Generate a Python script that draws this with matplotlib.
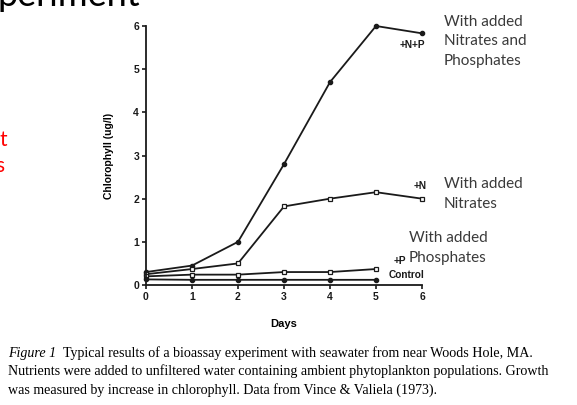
import numpy as np
import matplotlib
matplotlib.use("Agg")
from matplotlib import pyplot as plt

# values
days = [0, 1, 2, 3, 4, 5, 6]
days_short = [0, 1, 2, 3, 4, 5]
chl_np = [0.30, 0.45, 1.00, 2.80, 4.70, 6.00, 5.83]
chl_n = [0.25, 0.37, 0.50, 1.82, 2.00, 2.15, 2.00]
chl_p = [0.20, 0.24, 0.24, 0.30, 0.30, 0.37]
chl_ctrl = [0.13, 0.12, 0.12, 0.12, 0.12, 0.12]

y_ticks = [0, 1, 2, 3, 4, 5, 6]
x_ticks = [0, 1, 2, 3, 4, 5, 6]

caption_1 = "Typical results of a bioassay experiment with seawater from near Woods Hole, MA."
caption_2 = "Nutrients were added to unfiltered water containing ambient phytoplankton populations. Growth"
caption_3 = "was measured by increase in chlorophyll. Data from Vince & Valiela (1973)."

W, H = 577, 405
fig = plt.figure(figsize=(W / 100, H / 100), dpi=100)
fig.patch.set_facecolor("white")

def fx(px):
    return px / W

def fy(py):
    return 1 - py / H

# axes box in pixels: x 0..6 -> 146..422, y 0..6 -> 285..26
ax = fig.add_axes([fx(146), fy(285), fx(422) - fx(146), fy(26) - fy(285)])
ax.set_xlim(0, 6)
ax.set_ylim(0, 6)

lw = 1.3
ink = "#1a1a1a"
ax.plot(days, chl_np, color=ink, lw=lw, marker="o", ms=3, mfc=ink, mec=ink, clip_on=False)
ax.plot(days, chl_n, color=ink, lw=lw, marker="s", ms=3.5, mfc="white", mec=ink, mew=0.9, clip_on=False)
ax.plot(days_short, chl_p, color=ink, lw=lw, marker="s", ms=3.5, mfc="white", mec=ink, mew=0.9, clip_on=False)
ax.plot(days_short, chl_ctrl, color=ink, lw=lw, marker="o", ms=3, mfc=ink, mec=ink, clip_on=False)

for s in ["top", "right"]:
    ax.spines[s].set_visible(False)
for s in ["left", "bottom"]:
    ax.spines[s].set_linewidth(1.3)
    ax.spines[s].set_color(ink)

ax.set_xticks(x_ticks)
ax.set_yticks(y_ticks)
ax.tick_params(length=3, width=1.2, colors=ink, labelsize=7.5, pad=2)
for lab in ax.get_xticklabels() + ax.get_yticklabels():
    lab.set_fontweight("bold")
    lab.set_family("Liberation Sans")

ax.set_xlabel("Days", fontsize=8, fontweight="bold", family="Liberation Sans", labelpad=12)
ax.set_ylabel("Chlorophyll (ug/l)", fontsize=7.5, fontweight="bold", family="Liberation Sans", labelpad=14)

# series labels inside the scanned figure
lab_kw = dict(fontsize=7.3, fontweight="bold", family="Liberation Sans", color=ink)
fig.text(fx(425), fy(45), "+N+P", ha="right", va="center", **lab_kw)
fig.text(fx(427), fy(186), "+N", ha="right", va="center", **lab_kw)
fig.text(fx(406), fy(261), "+P", ha="right", va="center", **lab_kw)
fig.text(fx(424), fy(275), "Control", ha="right", va="center", **lab_kw)

# slide annotations
note_kw = dict(fontsize=11, family="Lato", color="#3a3a3a", linespacing=1.5, va="center", ha="left")
fig.text(fx(444), fy(41), "With added\nNitrates and\nPhosphates", **note_kw)
fig.text(fx(444), fy(194), "With added\nNitrates", **note_kw)
fig.text(fx(409), fy(248), "With added\nPhosphates", **note_kw)

# slide title and red text cut off by the crop
fig.text(fx(-2), fy(6), "periment", fontsize=26, family="Lato", color="black", ha="left", va="baseline")
fig.text(fx(7), fy(140), "t", fontsize=15, family="Lato", color="red", ha="right", va="center")
fig.text(fx(4), fy(166), "s", fontsize=15, family="Lato", color="red", ha="right", va="center")

# caption
cap_kw = dict(fontsize=10.1, family="Liberation Serif", color="black", ha="left", va="center")
fig.text(fx(8), fy(353), "Figure 1", style="italic", **cap_kw)
fig.text(fx(63), fy(353), caption_1, **cap_kw)
fig.text(fx(8), fy(371), caption_2, **cap_kw)
fig.text(fx(8), fy(390), caption_3, **cap_kw)

fig.savefig("out.png", dpi=100, facecolor="white")
